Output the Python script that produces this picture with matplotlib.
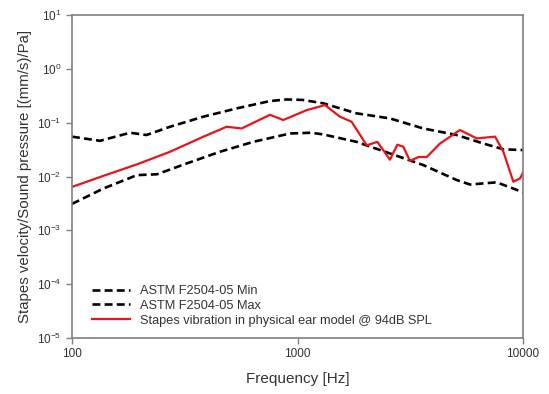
import numpy as np
import matplotlib
matplotlib.use('Agg')
import matplotlib.pyplot as plt

f_max = [100, 133, 181, 214, 272, 382, 537, 755, 896, 1050, 1300, 1828, 2570, 3613,
         5080, 6670, 8185, 10000]
v_max = [0.055, 0.046, 0.065, 0.059, 0.084, 0.129, 0.184, 0.252, 0.27, 0.265, 0.229,
         0.149, 0.12, 0.078, 0.059, 0.041, 0.032, 0.031]

f_min = [100, 138, 194, 238, 323, 453, 636, 927, 1150, 1300, 1828, 2570, 3613, 5080,
         5820, 7640, 10000]
v_min = [0.0031, 0.006, 0.0106, 0.011, 0.0175, 0.0288, 0.044, 0.063, 0.065, 0.0605,
         0.044, 0.0268, 0.0163, 0.0086, 0.0071, 0.0078, 0.0051]

f_ear = [100, 138, 194, 272, 382, 485, 565, 755, 865, 1099, 1324, 1543, 1738, 2027,
         2261, 2570, 2772, 2946, 3155, 3437, 3742, 4285, 5250, 6237, 7520, 8185, 9060,
         9710, 10000]
v_ear = [0.0064, 0.0103, 0.0168, 0.0288, 0.0547, 0.084, 0.078, 0.14, 0.112, 0.171,
         0.212, 0.129, 0.104, 0.038, 0.044, 0.0205, 0.039, 0.0357, 0.0195, 0.023, 0.023,
         0.041, 0.073, 0.051, 0.055, 0.0288, 0.008, 0.0092, 0.0119]

plt.rcParams['font.family'] = ['Liberation Sans', 'DejaVu Sans']

fig = plt.figure(figsize=(5.49, 3.94), dpi=100)
ax = fig.add_axes([72 / 549, 1 - 338 / 394, (523 - 72) / 549, (338 - 15) / 394])

ax.plot(f_min, v_min, color='black', ls=(0, (3, 1.6)), lw=1.9, label='ASTM F2504-05 Min')
ax.plot(f_max, v_max, color='black', ls=(0, (3, 1.6)), lw=1.9, label='ASTM F2504-05 Max')
ax.plot(f_ear, v_ear, color='#e8141c', lw=1.6, solid_joinstyle='round',
        label='Stapes vibration in physical ear model @ 94dB SPL')

ax.set_xscale('log')
ax.set_yscale('log')
ax.set_xlim(100, 10000)
ax.set_ylim(1e-5, 10)
ax.set_xticks([100, 1000, 10000])
ax.set_xticklabels(['100', '1000', '10000'])
ax.set_yticks([1e-5, 1e-4, 1e-3, 1e-2, 1e-1, 1, 10])
ax.minorticks_off()

for s in ax.spines.values():
    s.set_color('#808080')
    s.set_linewidth(1.2)
ax.tick_params(colors='#808080', labelcolor='#333333', labelsize=8.5, length=4, width=1)

ax.set_xlabel('Frequency [Hz]', fontsize=11, color='#333333', labelpad=8)
ax.set_ylabel('Stapes velocity/Sound pressure [(mm/s)/Pa]', fontsize=10.8, color='#333333', labelpad=4)

ax.legend(loc='lower left', bbox_to_anchor=(0.044, 0.035), frameon=False, fontsize=9.2,
          handlelength=3.0, handletextpad=0.8, labelspacing=0.22, borderaxespad=0,
          borderpad=0, labelcolor='#333333')

fig.savefig('out.png', dpi=100)
